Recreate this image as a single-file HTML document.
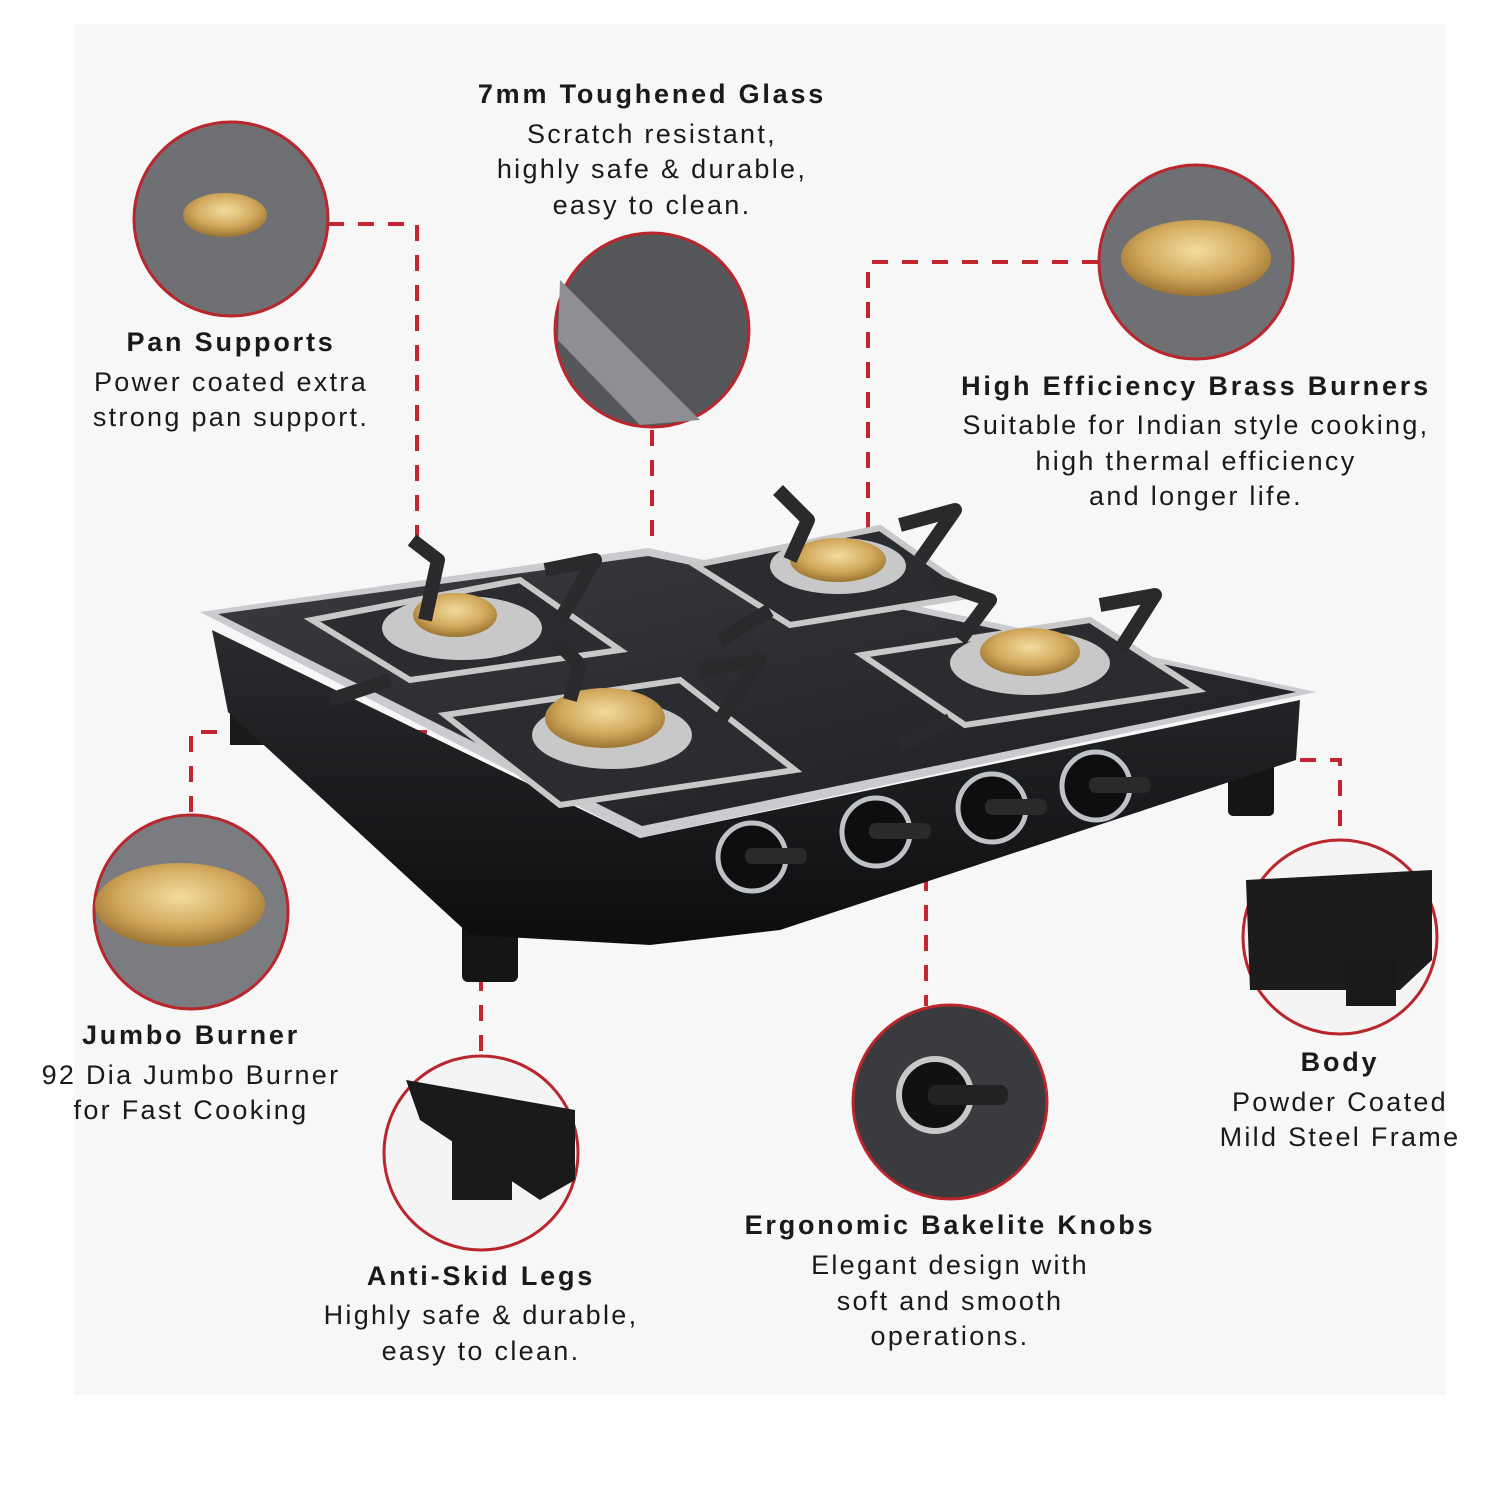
<!DOCTYPE html>
<html><head><meta charset="utf-8"><style>
body{margin:0;background:#fff;}
svg{display:block}
text{font-family:"Liberation Sans",sans-serif;fill:#1a1a1a;text-anchor:middle}
.t{font-weight:bold;font-size:27px;letter-spacing:2.8px}
.b{font-size:27px;letter-spacing:2.3px}
</style></head><body>
<svg width="1500" height="1500" viewBox="0 0 1500 1500">
<defs>
<radialGradient id="brass" cx="50%" cy="40%" r="60%"><stop offset="0" stop-color="#f3dca0"/><stop offset="0.6" stop-color="#d2a95c"/><stop offset="1" stop-color="#9c7432"/></radialGradient>
<linearGradient id="glass" x1="0" y1="0" x2="1" y2="1"><stop offset="0" stop-color="#3a3b3e"/><stop offset="1" stop-color="#1c1d20"/></linearGradient>
<linearGradient id="body" x1="0" y1="0" x2="0" y2="1"><stop offset="0" stop-color="#2a2b2e"/><stop offset="1" stop-color="#0d0d0f"/></linearGradient>
</defs>
<rect x="74" y="24" width="1372" height="1371" fill="#f7f7f7"/>

<g stroke="#c3262e" stroke-width="4" fill="none" stroke-dasharray="16,14">
<path d="M328 224H417V545"/>
<path d="M652 430V556"/>
<path d="M1098 262H868V530"/>
<path d="M191 812V732H545"/>
<path d="M481 975V1056"/>
<path d="M926 815V1006"/>
<path d="M1270 760H1340V842"/>
</g>

<g>
<rect x="230" y="700" width="34" height="45" fill="#1a1a1a"/>
<rect x="462" y="920" width="56" height="62" rx="6" fill="#151515"/>
<rect x="1228" y="760" width="46" height="56" rx="5" fill="#151515"/>
<polygon points="212,630 640,838 1300,700 1296,760 780,930 650,945 470,935 228,712" fill="url(#body)"/>
<polygon points="200,612 648,548 1316,692 640,838" fill="#c9cbcf"/>
<polygon points="218,614 648,556 1296,692 642,826" fill="url(#glass)"/>
<g fill="#0e0e0e" stroke="#bfc2c7" stroke-width="5">
<circle cx="752" cy="857" r="34"/><circle cx="876" cy="832" r="34"/><circle cx="992" cy="808" r="34"/><circle cx="1096" cy="786" r="34"/>
</g>
<g fill="#2a2a2a"><rect x="745" y="848" width="62" height="16" rx="7"/><rect x="869" y="823" width="62" height="16" rx="7"/><rect x="985" y="799" width="62" height="16" rx="7"/><rect x="1089" y="777" width="62" height="16" rx="7"/></g>
<g stroke="#c8c8c8" stroke-width="6" fill="#2b2c30">
<polygon points="312,620 520,580 620,650 410,680"/>
<polygon points="695,565 880,528 975,595 790,625"/>
<polygon points="445,715 680,680 795,770 560,805"/>
<polygon points="862,655 1090,620 1198,690 965,725"/>
</g>
<g fill="#c8c8c8"><ellipse cx="462" cy="628" rx="80" ry="32"/><ellipse cx="838" cy="566" rx="68" ry="28"/><ellipse cx="612" cy="735" rx="80" ry="34"/><ellipse cx="1030" cy="663" rx="80" ry="32"/></g>
<g fill="url(#brass)"><ellipse cx="455" cy="615" rx="42" ry="22"/><ellipse cx="838" cy="560" rx="48" ry="22"/><ellipse cx="605" cy="718" rx="60" ry="30"/><ellipse cx="1030" cy="652" rx="50" ry="24"/></g>
<g stroke="#2a2a2c" stroke-width="14" fill="none" stroke-linejoin="round">
<path d="M412 540 L438 560 L425 620"/><path d="M545 570 L595 560 L560 620"/>
<path d="M778 490 L808 520 L790 560"/><path d="M900 525 L955 510 L920 560"/>
<path d="M555 640 L580 665 L570 700"/><path d="M700 670 L760 660 L720 720"/>
<path d="M932 580 L990 600 L960 640"/><path d="M1100 605 L1155 595 L1120 650"/>
<path d="M330 700 L390 680"/><path d="M900 745 L950 720"/><path d="M720 640 L770 610"/>
</g>
</g>

<g stroke="#b9262c" stroke-width="3">
<circle cx="231" cy="219" r="97" fill="#6e7074"/>
<circle cx="652" cy="330" r="97" fill="#55575b"/>
<circle cx="1196" cy="262" r="97" fill="#6e7074"/>
<circle cx="191" cy="912" r="97" fill="#7a7c80"/>
<circle cx="481" cy="1153" r="97" fill="#f4f4f4"/>
<circle cx="950" cy="1102" r="97" fill="#3a3b3e"/>
<circle cx="1340" cy="937" r="97" fill="#f4f4f4"/>
</g>
<g fill="url(#brass)"><ellipse cx="225" cy="215" rx="42" ry="22"/><ellipse cx="1196" cy="258" rx="75" ry="38"/><ellipse cx="180" cy="905" rx="85" ry="42"/></g>
<polygon points="560,280 700,420 640,425 558,340" fill="#8d8f93"/>
<path d="M406 1080 L575 1110 L575 1180 L540 1200 L420 1120Z" fill="#1a1a1a"/>
<rect x="452" y="1140" width="60" height="60" fill="#1a1a1a"/>
<path d="M1246 880 L1432 870 L1432 960 L1400 990 L1250 990Z" fill="#1c1c1c"/>
<rect x="1346" y="960" width="50" height="46" fill="#1a1a1a"/>
<circle cx="935" cy="1095" r="36" fill="#111" stroke="#c8c8c8" stroke-width="6"/>
<rect x="928" y="1085" width="80" height="20" rx="8" fill="#222"/>

<text class="t" x="652" y="103">7mm Toughened Glass</text>
<text class="b" x="652" y="143">Scratch resistant,</text>
<text class="b" x="652" y="178">highly safe &amp; durable,</text>
<text class="b" x="652" y="214">easy to clean.</text>
<text class="t" x="231" y="351">Pan Supports</text>
<text class="b" x="231" y="391">Power coated extra</text>
<text class="b" x="231" y="426">strong pan support.</text>
<text class="t" x="1196" y="395">High Efficiency Brass Burners</text>
<text class="b" x="1196" y="434">Suitable for Indian style cooking,</text>
<text class="b" x="1196" y="470">high thermal efficiency</text>
<text class="b" x="1196" y="505">and longer life.</text>
<text class="t" x="191" y="1044">Jumbo Burner</text>
<text class="b" x="191" y="1084">92 Dia Jumbo Burner</text>
<text class="b" x="191" y="1119">for Fast Cooking</text>
<text class="t" x="481" y="1285">Anti-Skid Legs</text>
<text class="b" x="481" y="1324">Highly safe &amp; durable,</text>
<text class="b" x="481" y="1360">easy to clean.</text>
<text class="t" x="950" y="1234">Ergonomic Bakelite Knobs</text>
<text class="b" x="950" y="1274">Elegant design with</text>
<text class="b" x="950" y="1310">soft and smooth</text>
<text class="b" x="950" y="1345">operations.</text>
<text class="t" x="1340" y="1071">Body</text>
<text class="b" x="1340" y="1111">Powder Coated</text>
<text class="b" x="1340" y="1146">Mild Steel Frame</text>
</svg>
</body></html>
